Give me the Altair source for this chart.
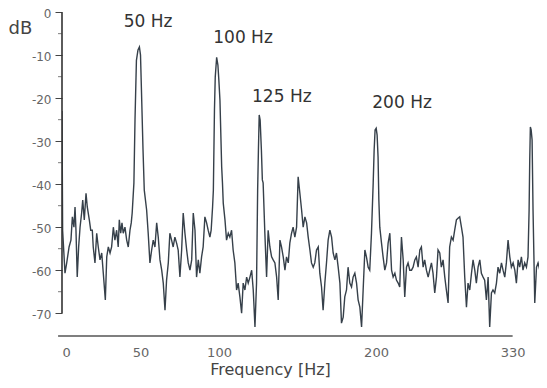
import altair as alt
import pandas as pd

# ---- spectrum trace (frequency in Hz, level in dB) ----
freq_hz = [
    0.0, 0.4, 1.9, 3.0, 4.5, 5.7, 6.6, 7.6, 8.3, 8.9, 9.7, 10.6, 11.5, 12.5, 13.2, 14.2, 15.3, 16.1, 17.4, 18.3,
    19.3, 19.9, 21.0, 22.1, 23.1, 24.2, 25.3, 26.3, 27.6, 28.5, 29.5, 30.6, 31.6, 32.7, 33.7, 34.8, 35.8, 36.5,
    37.4, 38.2, 39.0, 40.1, 41.2, 42.2, 43.3, 44.1, 44.7, 45.8,
    46.5, 47.4, 48.4, 49.3, 50.0, 50.6, 51.6, 52.4, 53.9, 54.9, 56.0, 57.1, 58.1, 59.2, 60.3, 61.3, 62.4, 63.5,
    64.5, 65.6, 66.6, 67.7, 68.7, 69.8, 70.8, 71.9, 73.0, 74.0, 75.1, 76.2, 77.2, 78.3, 79.4, 80.4, 81.5, 82.6,
    83.6, 84.7, 85.7, 86.8, 87.8, 88.9, 89.9, 91.0, 92.1, 93.1, 94.2, 95.0, 95.9,
    96.4, 97.1, 97.6, 98.5, 99.3, 99.9, 100.6, 101.7, 102.2, 102.7, 103.8, 104.8, 105.9, 106.9, 108.0, 109.0,
    110.1, 111.2, 112.2, 113.3, 114.4, 115.4, 116.5, 117.6, 118.6, 119.7, 120.8, 121.8, 122.9, 123.9, 124.6,
    125.1, 125.6, 126.2, 127.0, 127.6, 128.1, 129.2, 130.3, 131.3, 132.4, 133.5, 134.5, 135.6, 136.7, 137.7,
    138.8, 139.8, 140.9, 142.0, 143.0, 144.1, 145.1, 146.2, 147.2, 148.3, 149.4, 150.4, 151.5, 152.6, 153.6,
    154.7, 155.8, 156.8, 157.9, 158.9, 160.0, 161.0, 162.1, 163.2, 164.2, 165.3, 166.3, 167.4, 168.5, 169.5,
    170.6, 171.7, 172.7, 173.8, 174.8, 175.9, 177.0, 178.0, 179.1, 180.1, 181.2, 182.2, 183.3, 184.4, 185.4,
    186.5, 187.6, 188.6, 189.7, 190.8, 191.8, 192.9, 193.9, 195.0, 196.0, 197.1, 198.2,
    198.8, 199.4, 200.1, 200.7, 201.3, 201.8, 202.4, 203.5, 204.5, 205.6, 206.7, 207.7, 208.8, 209.9, 210.9,
    212.0, 213.0, 214.1, 215.1, 216.2, 217.3, 218.3, 219.4, 220.4, 221.5, 222.6, 223.6, 224.7, 225.7, 226.8,
    227.9, 228.9, 230.0, 231.0, 232.1, 233.2, 234.2, 235.3, 236.3, 237.4, 238.5, 239.5, 240.6, 241.6, 242.7,
    243.8, 244.8, 245.9, 246.9, 248.0, 249.1, 250.1, 251.2, 252.2, 253.3, 254.4, 255.4, 256.5, 257.6, 258.6,
    259.7, 260.8, 261.8, 262.9, 263.9, 265.0, 266.1, 267.1, 268.2, 269.2, 270.3, 271.4, 272.4, 273.5, 274.5,
    275.6, 276.7, 277.7, 278.8, 279.9, 280.9, 282.0, 283.0, 284.1, 285.2, 286.2, 287.3, 288.4, 289.4, 290.5,
    291.5, 292.6, 293.6, 294.7, 295.8, 296.8,
    297.5, 297.9, 298.3, 298.8, 299.4, 300.0, 300.6, 301.1, 302.2, 303.2, 304.3, 305.4, 306.4, 307.4,
]
level_db = [
    -23.0, -50.7, -60.7, -58.3, -54.6, -53.0, -47.6, -50.0, -45.3, -50.7, -61.6, -54.6, -50.0, -46.7, -43.7, -48.3,
    -42.1, -45.3, -48.3, -50.7, -50.7, -54.6, -58.3, -51.4, -54.6, -57.6, -56.0, -60.7, -66.9, -56.9, -54.6, -56.0,
    -54.6, -50.0, -53.0, -50.7, -54.6, -48.3, -51.4, -49.0, -51.4, -50.0, -53.0, -54.6, -50.7, -49.0, -46.7, -39.7,
    -25.0, -11.2, -8.8, -8.1, -10.0, -18.1, -32.0, -41.4, -46.0, -51.4, -58.3, -55.3, -53.0, -54.6, -49.0, -52.3,
    -57.6, -60.0, -63.0, -69.3, -62.3, -58.3, -51.4, -53.0, -54.6, -52.3, -53.7, -55.3, -61.6, -55.3, -46.7, -51.4,
    -55.3, -58.3, -60.0, -57.6, -46.7, -50.7, -61.6, -57.6, -60.7, -56.9, -54.6, -47.6, -49.0, -50.7, -52.3, -50.7,
    -45.3,
    -41.4, -22.8, -15.1, -10.5, -12.3, -15.8, -20.5, -36.0, -39.7, -44.4, -48.3, -53.0, -51.4, -52.3, -50.7, -55.3,
    -58.3, -64.6, -63.0, -66.2, -70.0, -63.0, -64.6, -61.6, -63.0, -61.6, -60.0, -64.6, -73.2, -63.0, -41.4,
    -32.1, -23.9, -25.1, -32.1, -39.0, -39.7, -51.4, -61.6, -50.7, -54.6, -56.9, -57.6, -58.3, -61.6, -66.9, -53.0,
    -54.6, -56.9, -60.0, -56.9, -58.3, -53.7, -51.4, -50.0, -52.3, -50.0, -38.3, -42.1, -46.0, -50.0, -47.6, -49.0,
    -52.3, -55.3, -58.3, -59.3, -58.3, -55.3, -54.6, -60.7, -63.9, -69.3, -63.0, -58.1, -53.0, -50.7, -52.3, -56.0,
    -57.6, -56.0, -59.3, -63.0, -72.3, -70.9, -66.2, -64.6, -59.3, -63.0, -63.9, -61.6, -60.7, -63.0, -66.9, -68.6,
    -73.2, -64.6, -55.3, -56.9, -59.3, -60.0, -51.4, -39.7,
    -32.1, -27.4, -27.0, -28.6, -33.7, -43.7, -50.0, -53.7, -56.9, -60.0, -58.3, -53.7, -51.4, -60.0, -61.6, -60.7,
    -62.3, -63.0, -63.9, -52.3, -57.6, -66.2, -59.3, -58.3, -60.0, -60.0, -59.3, -57.6, -56.9, -59.3, -55.3, -54.6,
    -59.3, -57.6, -60.0, -61.6, -60.0, -58.3, -60.7, -65.3, -61.6, -55.3, -56.0, -59.3, -57.6, -61.6, -64.6, -67.6,
    -54.6, -52.3, -53.0, -50.7, -48.3, -47.9, -47.6, -50.0, -52.3, -61.6, -68.6, -63.0, -64.6, -60.7, -57.6, -60.0,
    -63.0, -59.3, -57.6, -60.7, -61.6, -62.3, -66.9, -61.6, -73.2, -65.3, -64.6, -65.3, -63.0, -59.3, -60.7, -58.3,
    -60.0, -61.6, -58.3, -53.0, -56.9, -59.3, -58.3, -60.0, -63.0, -57.6, -59.3, -56.9, -60.0, -58.3, -59.3, -56.9,
    -46.0, -34.4, -26.7, -27.4, -29.7, -46.0, -57.6, -67.6, -59.3, -58.3, -60.0, -58.3, -56.0, -60.0,
]
assert len(freq_hz) == len(level_db), (len(freq_hz), len(level_db))

# ---- peak annotations ----
ann_text = ["50 Hz", "100 Hz", "125 Hz", "200 Hz"]
ann_freq = [54.8, 115.3, 140.0, 216.6]
ann_db = [-2.3, -6.1, -19.8, -21.2]

# ---- axes ----
y_major = [0, -10, -20, -30, -40, -50, -60, -70]
y_major_labels = ["0", "-10", "-20", "-30", "-40", "-50", "-60", "-70"]
y_minor = [-5, -15, -25, -35, -45, -55, -65]
x_tick_values = [0, 50, 100, 200, 287]
x_tick_labels = ["0", "50", "100", "200", "330"]
x_domain = [0, 303.8]
y_domain = [-75.3, 0.5]
x_line = [-2.5, 287]   # extent of the drawn frequency axis line
y_line = [-70, 0]      # extent of the drawn dB axis line

FONT = "DejaVu Sans"


def expr_for(values, labels):
    return "".join(f"datum.value == {v} ? '{l}' : " for v, l in zip(values, labels)) + "datum.label"


trace = pd.DataFrame({"f": freq_hz, "db": level_db})
ann = pd.DataFrame({"f": ann_freq, "db": ann_db, "t": ann_text})
minor = pd.DataFrame({"f": [0] * len(y_minor), "db": y_minor})
ylin = pd.DataFrame({"f": [0], "db": [y_line[0]], "db2": [y_line[1]]})
xlin = pd.DataFrame({"f": [x_line[0]], "f2": [x_line[1]], "db": [y_domain[0]]})

xs = alt.Scale(domain=x_domain, nice=False, zero=False)
ys = alt.Scale(domain=y_domain, nice=False, zero=False)

x_axis = alt.Axis(
    values=x_tick_values, labelExpr=expr_for(x_tick_values, x_tick_labels),
    domain=False, ticks=False, grid=False, labelOverlap=False,
    labelPadding=10, labelFontSize=13, labelColor="#666", labelFont=FONT,
    title="Frequency [Hz]", titleFont=FONT, titleFontSize=16, titleFontWeight="normal",
    titleColor="#444", titleX=208, titleY=33, titleAlign="center", titleBaseline="middle",
)
y_axis = alt.Axis(
    values=y_major, labelExpr=expr_for(y_major, y_major_labels), domain=False, grid=False,
    labelOverlap=False, labelFlush=False, labelOffset=1,
    tickSize=7, tickColor="#444", tickWidth=1, labelPadding=4, labelFontSize=12,
    labelColor="#666", labelFont=FONT,
    title="dB", titleFont=FONT, titleFontSize=18, titleFontWeight="normal", titleColor="#444",
    titleAngle=0, titleX=-42, titleY=18, titleAlign="center", titleBaseline="middle",
)

line = alt.Chart(trace).mark_line(color="#36404a", strokeWidth=1.4, clip=True).encode(
    x=alt.X("f:Q", scale=xs, axis=x_axis),
    y=alt.Y("db:Q", scale=ys, axis=y_axis),
)

yaxis_line = alt.Chart(ylin).mark_rule(color="#333", strokeWidth=1.6).encode(
    x=alt.X("f:Q"),
    y=alt.Y("db:Q"),
    y2="db2:Q",
)

xaxis_line = alt.Chart(xlin).mark_rule(color="#555", strokeWidth=1.3).encode(
    x=alt.X("f:Q"),
    x2="f2:Q",
    y=alt.Y("db:Q"),
)

minor_ticks = alt.Chart(minor).mark_tick(
    orient="horizontal", size=4, thickness=1, color="#444", xOffset=-2
).encode(
    x=alt.X("f:Q"),
    y=alt.Y("db:Q"),
)

labels = alt.Chart(ann).mark_text(
    font=FONT, fontSize=17, color="#333", align="center", baseline="middle"
).encode(
    x=alt.X("f:Q"),
    y=alt.Y("db:Q"),
    text="t:N",
)

chart = alt.layer(line, yaxis_line, xaxis_line, minor_ticks, labels).properties(
    width=477, height=326,
    autosize=alt.AutoSizeParams(type="none"),
    padding={"left": 54, "top": 2, "right": 0, "bottom": 42},
    background="white",
).configure_view(stroke=None)

chart.save("out.html", embed_options={"renderer": "svg", "actions": False})
